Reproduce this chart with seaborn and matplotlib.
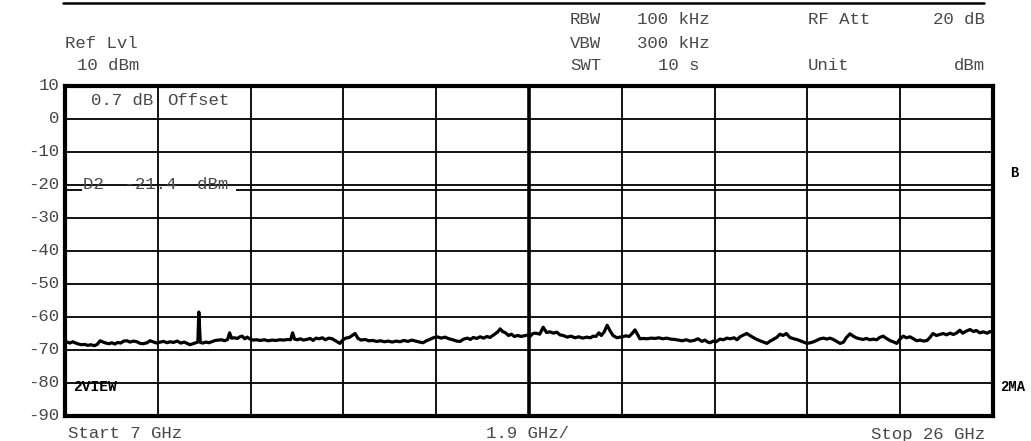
import matplotlib
matplotlib.use("Agg")
import matplotlib.pyplot as plt
import matplotlib.transforms as mtransforms
from matplotlib.lines import Line2D
import seaborn as sns
import pandas as pd

# Sweep settings
start_ghz = 7.0
stop_ghz = 26.0
span_per_div = 1.9
ref_level = 10
display_line_dbm = -21.4
y_ticks = [10, 0, -10, -20, -30, -40, -50, -60, -70, -80, -90]
y_tick_labels = ["10", "0", "-10", "-20", "-30", "-40", "-50", "-60", "-70", "-80", "-90"]

# Measured trace (frequency in GHz, level in dBm)
freq_ghz = [
    7.00, 7.05, 7.10, 7.16, 7.22, 7.28, 7.34, 7.40, 7.47, 7.53, 7.60, 7.66, 7.72, 7.78, 7.84,
    7.90, 7.96, 8.02, 8.08, 8.14, 8.20, 8.27, 8.33, 8.40, 8.47, 8.54, 8.60, 8.68, 8.74, 8.80,
    8.88, 8.95, 9.02, 9.09, 9.15, 9.22, 9.30, 9.37, 9.44, 9.50, 9.56, 9.62, 9.68, 9.72, 9.74,
    9.77, 9.82, 9.88, 9.95, 10.02, 10.08, 10.14, 10.20, 10.27, 10.33, 10.37, 10.41, 10.47, 10.53,
    10.58, 10.63, 10.68, 10.73, 10.79, 10.85, 10.92, 11.00, 11.08, 11.16, 11.24, 11.32, 11.40,
    11.48, 11.56, 11.62, 11.66, 11.70, 11.76, 11.82, 11.88, 11.95, 12.02, 12.08, 12.14, 12.20,
    12.27, 12.33, 12.40, 12.47, 12.55, 12.63, 12.69, 12.75, 12.82, 12.88, 12.94, 13.00, 13.06,
    13.14, 13.22, 13.30, 13.38, 13.46, 13.54, 13.62, 13.70, 13.78, 13.86, 13.94, 14.02, 14.10,
    14.18, 14.26, 14.33, 14.40, 14.47, 14.54, 14.62, 14.70, 14.78, 14.86, 14.94, 15.02, 15.09,
    15.16, 15.24, 15.30, 15.36, 15.43, 15.50, 15.57, 15.64, 15.70, 15.78, 15.86, 15.91, 15.96,
    16.02, 16.08, 16.14, 16.20, 16.27, 16.34, 16.40, 16.46, 16.52, 16.58, 16.64, 16.72, 16.79,
    16.86, 16.93, 17.00, 17.07, 17.13, 17.20, 17.28, 17.36, 17.44, 17.52, 17.60, 17.68, 17.76,
    17.81, 17.87, 17.93, 17.98, 18.04, 18.10, 18.16, 18.22, 18.30, 18.36, 18.42, 18.48, 18.55,
    18.61, 18.67, 18.72, 18.77, 18.84, 18.92, 19.00, 19.08, 19.16, 19.24, 19.32, 19.40, 19.48,
    19.56, 19.64, 19.72, 19.80, 19.88, 19.96, 20.04, 20.10, 20.16, 20.21, 20.27, 20.33, 20.41,
    20.48, 20.55, 20.62, 20.70, 20.76, 20.82, 20.90, 20.96, 21.02, 21.08, 21.15, 21.23, 21.30,
    21.37, 21.44, 21.50, 21.57, 21.64, 21.70, 21.77, 21.84, 21.92, 22.00, 22.05, 22.12, 22.19,
    22.26, 22.33, 22.40, 22.46, 22.53, 22.60, 22.66, 22.73, 22.80, 22.87, 22.94, 23.00, 23.07,
    23.14, 23.20, 23.27, 23.34, 23.41, 23.48, 23.55, 23.62, 23.68, 23.75, 23.82, 23.90, 23.97,
    24.03, 24.09, 24.16, 24.23, 24.30, 24.37, 24.44, 24.51, 24.58, 24.65, 24.71, 24.77, 24.84,
    24.91, 24.98, 25.05, 25.12, 25.19, 25.26, 25.32, 25.38, 25.45, 25.53, 25.60, 25.66, 25.73,
    25.80, 25.88, 25.94, 26.00,
]
level_dbm = [
    -67.8, -67.6, -67.9, -67.5, -67.9, -68.2, -68.4, -68.3, -68.6, -68.4, -68.7, -68.3, -67.2, -67.6, -67.9,
    -68.1, -67.8, -68.2, -67.7, -67.9, -67.3, -67.2, -67.6, -67.3, -67.5, -68.0, -68.1, -67.8, -67.2, -67.5,
    -67.9, -67.6, -67.4, -67.8, -67.5, -67.7, -67.3, -67.9, -67.6, -68.0, -68.4, -68.1, -67.8, -67.6, -58.5,
    -67.7, -67.9, -67.6, -67.8, -67.4, -67.1, -67.0, -66.9, -67.2, -66.8, -64.8, -66.4, -66.3, -66.5,
    -66.0, -65.8, -66.6, -66.1, -66.7, -67.0, -66.9, -67.1, -66.9, -67.2, -67.0, -67.1, -66.9,
    -67.0, -66.8, -66.9, -64.8, -66.7, -66.9, -66.6, -67.0, -66.8, -66.5, -67.1, -66.4, -66.6,
    -66.3, -66.9, -66.4, -66.6, -67.3, -68.0, -66.9, -66.4, -66.2, -65.6, -65.0, -66.5, -67.0,
    -66.8, -67.2, -67.1, -67.4, -67.2, -67.5, -67.3, -67.6, -67.3, -67.5, -67.1, -67.4, -67.0,
    -67.3, -67.6, -67.8, -67.2, -66.8, -66.3, -66.0, -66.4, -66.1, -66.6, -66.9, -67.3, -67.4,
    -66.7, -66.4, -66.8, -66.2, -66.5, -66.0, -66.4, -65.9, -66.2, -65.4, -64.5, -63.6, -64.4,
    -64.8, -65.6, -65.2, -65.9, -65.6, -65.9, -65.7, -65.5, -65.9, -65.0, -64.9, -65.2, -63.1,
    -64.7, -64.5, -64.9, -64.6, -65.4, -65.6, -66.1, -65.8, -66.3, -66.0, -66.4, -66.1, -66.3,
    -65.8, -65.9, -64.8, -65.6, -64.5, -62.5, -64.2, -65.6, -66.3, -66.1, -66.0, -65.7, -65.9,
    -65.0, -63.9, -65.2, -66.6, -66.5, -66.6, -66.4, -66.5, -66.3, -66.6, -66.4, -66.7, -66.8,
    -67.0, -67.2, -66.9, -67.3, -67.1, -66.6, -67.4, -67.0, -67.6, -67.8, -67.3, -67.5, -66.7,
    -66.9, -66.4, -66.6, -66.3, -66.9, -66.0, -65.4, -65.0, -65.6, -66.1, -66.7, -67.2, -67.6,
    -68.0, -67.3, -66.8, -66.2, -65.2, -65.6, -65.0, -66.2, -66.6, -66.9, -67.2, -67.6, -68.0,
    -67.8, -67.5, -67.0, -66.6, -66.4, -66.7, -66.4, -66.8, -67.4, -68.0, -67.6, -66.2, -65.1,
    -65.8, -66.3, -66.6, -66.8, -66.5, -66.9, -66.7, -66.9, -66.2, -65.8, -66.5, -67.2, -67.6,
    -68.0, -66.8, -65.8, -66.3, -66.0, -66.6, -67.2, -67.0, -67.3, -67.1, -66.2, -65.0, -65.6,
    -65.3, -65.0, -65.4, -64.9, -65.3, -64.8, -64.0, -64.9, -64.3, -63.8, -64.4, -64.1, -64.8,
    -64.5, -64.9, -64.4, -64.6,
]

trace = pd.DataFrame({"freq_ghz": freq_ghz, "level_dbm": level_dbm})

sns.set_theme(style="white")
mono = "Liberation Mono"
txt_color = "#484848"
plt.rcParams["font.family"] = [mono, "DejaVu Sans"]

W, H = 1031, 441
fig = plt.figure(figsize=(W / 100, H / 100), dpi=100)
ax = fig.add_axes([65 / W, 1 - 416 / H, 928 / W, 330 / H])

# Graticule: 10 x 10 divisions
x_grid = [start_ghz + span_per_div * i for i in range(11)]
for i, xv in enumerate(x_grid[1:-1], start=1):
    ax.axvline(xv, color="black", lw=2.6 if i == 5 else 1.3, zorder=1)
for yv in y_ticks[1:-1]:
    ax.axhline(yv, color="black", lw=1.3, zorder=1)

# Display line D2 with its label sitting on it
ax.hlines(display_line_dbm, start_ghz, 7.34, color="black", lw=1.3, zorder=2)
ax.hlines(display_line_dbm, 10.5, stop_ghz, color="black", lw=1.3, zorder=2)
ax.text(7.37, display_line_dbm + 0.2, "D2  -21.4  dBm", fontsize=12.5, color=txt_color,
        ha="left", va="baseline", family=mono, zorder=3)

# Trace
sns.lineplot(data=trace, x="freq_ghz", y="level_dbm", ax=ax, color="black", lw=2.3,
             zorder=4, legend=False)

ax.set_xlim(start_ghz, stop_ghz)
ax.set_ylim(-90, ref_level)
ax.set_xticks([])
ax.set_xlabel("")
ax.set_ylabel("")
ax.set_yticks(y_ticks)
ax.set_yticklabels(y_tick_labels, family=mono, fontsize=12.5, color=txt_color)
ax.tick_params(axis="y", length=0, pad=4)
shift = mtransforms.ScaledTranslation(0, 2 / 100, fig.dpi_scale_trans)
for lab in ax.get_yticklabels():
    lab.set_transform(lab.get_transform() + shift)
for side in ["left", "right", "top", "bottom"]:
    ax.spines[side].set_visible(True)
    ax.spines[side].set_color("black")
    ax.spines[side].set_linewidth(3.0)

# Offset annotation in the first division
ax.text(0.028, 0.955, "0.7 dB", transform=ax.transAxes, fontsize=12.5, color=txt_color,
        ha="left", va="center", family=mono)
ax.text(0.110, 0.955, "Offset", transform=ax.transAxes, fontsize=12.5, color=txt_color,
        ha="left", va="center", family=mono)
ax.text(0.009, 0.088, "2VIEW", transform=ax.transAxes, fontsize=10.5, color="black",
        ha="left", va="center", family=mono, fontweight="bold")

# Header line and settings block
fig.add_artist(Line2D([63 / W, 984 / W], [1 - 3 / H, 1 - 3 / H], color="black", lw=1.8))


def ftxt(x, y, s, ha="left", color=txt_color, size=12.5, weight="normal"):
    fig.text(x / W, 1 - y / H, s, ha=ha, va="center", family=mono, fontsize=size,
             color=color, fontweight=weight)


ftxt(65, 43, "Ref Lvl")
ftxt(77, 65, "10 dBm")
ftxt(570, 19, "RBW")
ftxt(637, 19, "100 kHz")
ftxt(570, 43, "VBW")
ftxt(637, 43, "300 kHz")
ftxt(570, 65, "SWT")
ftxt(658, 65, "10 s")
ftxt(808, 19, "RF Att")
ftxt(985, 19, "20 dB", ha="right")
ftxt(808, 65, "Unit")
ftxt(985, 65, "dBm", ha="right")

# Footer
ftxt(68, 434, "Start 7 GHz")
ftxt(486, 434, "1.9 GHz/")
ftxt(985, 434, "Stop 26 GHz", ha="right")

# Side markers
ftxt(1010, 173, "B", color="black", weight="bold", size=10)
ftxt(1000, 387, "2MA", color="black", weight="bold", size=10)

fig.savefig("out.png", dpi=100, facecolor="white")
